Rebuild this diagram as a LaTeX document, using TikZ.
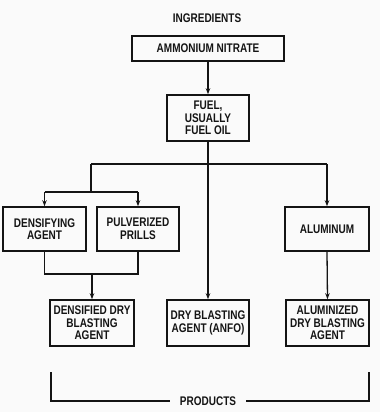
\documentclass[tikz,border=0pt]{standalone}
\usepackage{fontspec}
\newfontfamily\lblfont[FakeStretch=0.8]{Liberation Sans}
\usetikzlibrary{arrows.meta}
\definecolor{bg}{RGB}{250,250,250}
\definecolor{ink}{RGB}{20,20,20}
\tikzset{
  boxnode/.style={draw=ink, line width=1.6pt, rectangle, inner sep=1pt, align=center,
    font=\lblfont\bfseries\fontsize{12.5}{12.5}\selectfont, text=ink},
  lbl/.style={font=\lblfont\bfseries\fontsize{12.5}{12.5}\selectfont, text=ink, inner sep=1pt},
  conn/.style={draw=ink, line width=1.3pt},
  arr/.style={conn, -{Stealth[length=6pt,width=4.5pt]}}
}
\begin{document}
\begin{tikzpicture}[x=1pt,y=-1pt]
\fill[bg] (0,0) rectangle (380,412);
\useasboundingbox (0,0) rectangle (380,412);

\node[lbl] (ingr) at (207,18) {INGREDIENTS};
\node[boxnode, minimum width=152pt, minimum height=25pt] (an) at (208,48.5) {AMMONIUM NITRATE};
\node[boxnode, minimum width=82pt, minimum height=46pt] (fuel) at (208,118) {FUEL,\\USUALLY\\FUEL OIL};
\node[boxnode, minimum width=83pt, minimum height=44pt] (dens) at (44.5,229) {DENSIFYING\\AGENT};
\node[boxnode, minimum width=82pt, minimum height=44pt] (pulv) at (138,229) {PULVERIZED\\PRILLS};
\node[boxnode, minimum width=84pt, minimum height=44pt] (alum) at (327,229) {ALUMINUM};
\node[boxnode, minimum width=84pt, minimum height=46pt] (dd) at (92,323) {DENSIFIED DRY\\BLASTING\\AGENT};
\node[boxnode, minimum width=82pt, minimum height=46pt] (anfo) at (208,323) {DRY BLASTING\\AGENT (ANFO)};
\node[boxnode, minimum width=83pt, minimum height=46pt] (adb) at (327.5,323) {ALUMINIZED\\DRY BLASTING\\AGENT};
\node[lbl, inner xsep=10pt] (prod) at (208,401) {PRODUCTS};

\coordinate (busL) at (91,164);
\coordinate (busR) at (327,164);
\coordinate (splitL) at (44.5,192);
\coordinate (splitR) at (138,192);
\coordinate (splitC) at (91,192);
\coordinate (joinL) at (44.5,274);
\coordinate (joinR) at (138,274);
\coordinate (joinC) at (92,274);
\coordinate (brTL) at (51,372);
\coordinate (brBL) at (51,401);
\coordinate (brTR) at (369,372);
\coordinate (brBR) at (369,401);

\draw[arr] (an.south) -- (fuel.north);
\draw[arr] (fuel.south) -- (anfo.north);
\draw[conn] (busL) -- (busR);
\draw[conn] (busL) -- (splitC);
\draw[conn] (splitL) -- (splitR);
\draw[arr] (splitL) -- (dens.north);
\draw[arr] (splitR) -- (pulv.north);
\draw[arr] (busR) -- (alum.north);
\draw[conn] (dens.south) -- (joinL) -- (joinR) -- (pulv.south);
\draw[arr] (joinC) -- (dd.north);
\draw[arr] (alum.south) -- (adb.north);
\draw[conn] (brTL) -- (brBL) -- (prod.west);
\draw[conn] (prod.east) -- (brBR) -- (brTR);
\end{tikzpicture}
\end{document}
